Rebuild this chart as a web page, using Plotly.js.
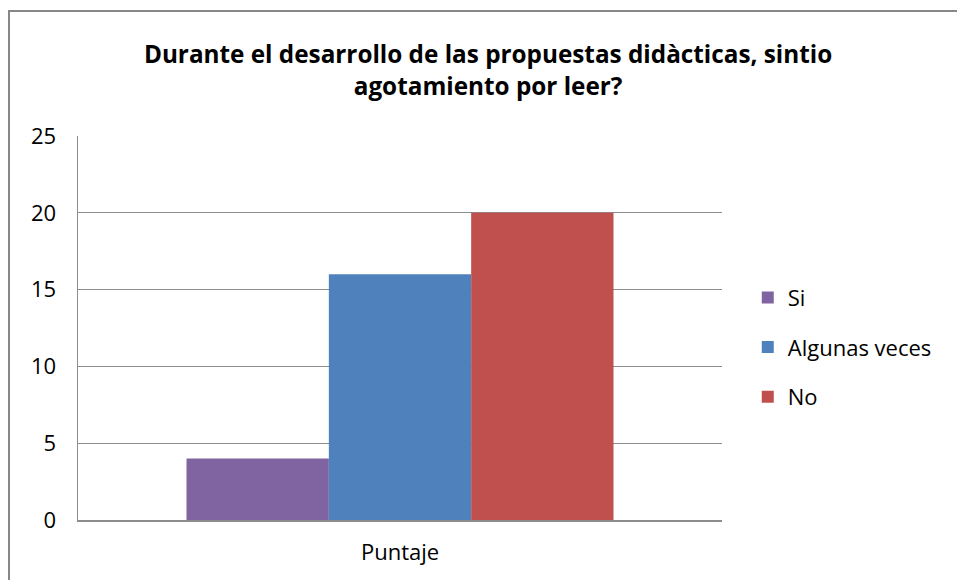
<!DOCTYPE html>
<html>
<head>
<meta charset="utf-8">
<script src="https://cdn.plot.ly/plotly-3.0.1.min.js"></script>
<style>
  html, body { margin: 0; padding: 0; background: #fff; }
  #wrap { position: relative; width: 957px; height: 580px; overflow: hidden; }
  #chart { position: absolute; left: 0; top: 0; width: 957px; height: 580px; }
  #frame { position: absolute; left: 8px; top: 10px; width: 1000px; height: 620px;
           border: 2px solid #878787; box-sizing: border-box; pointer-events: none; }
</style>
</head>
<body>
<div id="wrap">
  <div id="chart"></div>
  <div id="frame"></div>
</div>
<script>
const categories = ['Puntaje'];
const seriesNames = ['Si', 'Algunas veces', 'No'];
const seriesValues = [[4], [16], [20]];
const seriesColors = ['#8064A2', '#4F81BD', '#C0504D'];
const yTicks = [0, 5, 10, 15, 20, 25];

const FONT = '"Open Sans", Lato, sans-serif';

const traces = seriesNames.map((name, i) => ({
  type: 'bar',
  x: categories,
  y: seriesValues[i],
  name: name,
  legendgroup: 'g' + i,
  marker: { color: seriesColors[i], line: { width: 0 } },
  hoverinfo: 'skip'
}));

const layout = {
  width: 957,
  height: 580,
  paper_bgcolor: '#ffffff',
  plot_bgcolor: '#ffffff',
  margin: { l: 78, r: 235, t: 136, b: 60 },
  barmode: 'group',
  bargap: 0.337,
  bargroupgap: 0,
  title: {
    text: '<b>Durante el desarrollo de las propuestas didàcticas, sintio<br>agotamiento por leer?</b>',
    font: { family: FONT, size: 24.3, color: '#000000' },
    x: 0.51,
    xanchor: 'center',
    xref: 'container',
    yref: 'container',
    y: 0.891,
    yanchor: 'middle'
  },
  xaxis: {
    type: 'category',
    showline: true,
    linecolor: '#8c8c8c',
    linewidth: 1.5,
    showgrid: false,
    ticks: '',
    ticklabelstandoff: 12,
    tickfont: { family: FONT, size: 22, color: '#000000' },
    fixedrange: true
  },
  yaxis: {
    range: [0, 25],
    tickvals: yTicks,
    ticktext: yTicks.map(String),
    showline: true,
    linecolor: '#8c8c8c',
    linewidth: 1.5,
    showgrid: true,
    gridcolor: '#8c8c8c',
    gridwidth: 1,
    zeroline: false,
    ticks: '',
    ticklabelstandoff: 16,
    tickfont: { family: FONT, size: 22, color: '#000000' },
    fixedrange: true
  },
  showlegend: true,
  legend: {
    x: 1.04,
    xanchor: 'left',
    y: 0.45,
    yanchor: 'middle',
    traceorder: 'grouped',
    tracegroupgap: 18,
    itemwidth: 30,
    font: { family: FONT, size: 22, color: '#000000' },
    bgcolor: 'rgba(0,0,0,0)'
  }
};

Plotly.newPlot('chart', traces, layout, { displayModeBar: false, staticPlot: true });
</script>
</body>
</html>
